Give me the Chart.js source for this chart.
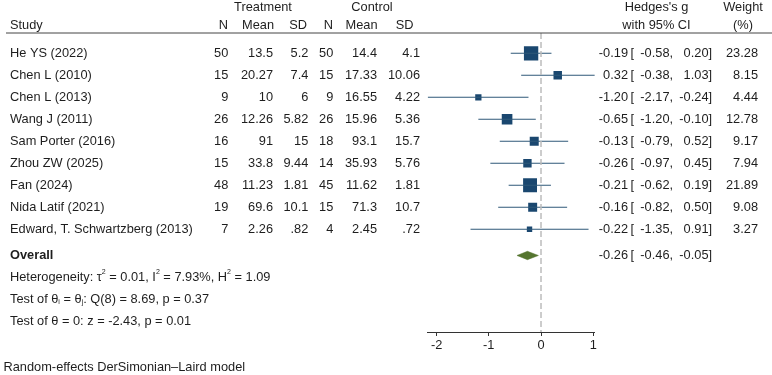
<!DOCTYPE html>
<html>
<head>
<meta charset="utf-8">
<script src="https://cdn.jsdelivr.net/npm/chart.js@4"></script>
<style>
  html, body { margin: 0; padding: 0; background: #fff; }
  #wrap { width: 772px; height: 375px; }
</style>
</head>
<body>
<div id="wrap"><canvas id="forest" width="772" height="375"></canvas></div>
<script>
// study level data
const studies = ['He YS (2022)', 'Chen L (2010)', 'Chen L (2013)', 'Wang J (2011)', 'Sam Porter (2016)',
  'Zhou ZW (2025)', 'Fan (2024)', 'Nida Latif (2021)', 'Edward, T. Schwartzberg (2013)'];
const trtN = [50, 15, 9, 26, 16, 15, 48, 19, 7];
const trtMean = [13.5, 20.27, 10, 12.26, 91, 33.8, 11.23, 69.6, 2.26];
const trtSD = [5.2, 7.4, 6, 5.82, 15, 9.44, 1.81, 10.1, 0.82];
const ctrlN = [50, 15, 9, 26, 18, 14, 45, 15, 4];
const ctrlMean = [14.4, 17.33, 16.55, 15.96, 93.1, 35.93, 11.62, 71.3, 2.45];
const ctrlSD = [4.1, 10.06, 4.22, 5.36, 15.7, 5.76, 1.81, 10.7, 0.72];
const hedgesG = [-0.19, 0.32, -1.20, -0.65, -0.13, -0.26, -0.21, -0.16, -0.22];
const ciLow = [-0.58, -0.38, -2.17, -1.20, -0.79, -0.97, -0.62, -0.82, -1.35];
const ciHigh = [0.20, 1.03, -0.24, -0.10, 0.52, 0.45, 0.19, 0.50, 0.91];
const weights = [23.28, 8.15, 4.44, 12.78, 9.17, 7.94, 21.89, 9.08, 3.27];

// pooled estimate
const overallG = -0.26;
const overallLow = -0.46;
const overallHigh = -0.05;

const xTicks = [-2, -1, 0, 1];

const FONT = "'Liberation Sans', Arial, sans-serif";
const FS = 12.8;
const NAVY = '#1a476f';
const GREEN = '#55752f';
const TXT = '#1e1e1e';

const OVERALL_ROW = 9.19;
const Y_MIN = -0.923, Y_MAX = 12.668;

function fmt(v) {
  return String(v).replace(/^0\./, '.');
}
function f2(v) {
  return v.toFixed(2);
}

// datasets
const datasets = [];

// zero reference line
datasets.push({
  data: [{ x: 0, y: Y_MIN }, { x: 0, y: Y_MAX }],
  showLine: true,
  borderColor: '#bcbcbc',
  borderWidth: 1.5,
  borderDash: [6, 3],
  pointRadius: 0
});

// confidence intervals
studies.forEach((s, i) => {
  datasets.push({
    data: [{ x: ciLow[i], y: i }, { x: ciHigh[i], y: i }],
    showLine: true,
    borderColor: '#2f5878',
    borderWidth: 1.1,
    pointRadius: 0
  });
});

// weighted squares
datasets.push({
  data: hedgesG.map((g, i) => ({ x: g, y: i })),
  showLine: false,
  pointStyle: 'rect',
  pointRadius: weights.map(w => 2.97 * Math.sqrt(w) / Math.SQRT2),
  pointBackgroundColor: NAVY,
  pointBorderWidth: 0
});

// overall diamond
datasets.push({
  data: [
    { x: overallLow, y: OVERALL_ROW },
    { x: overallG, y: OVERALL_ROW - 0.19 },
    { x: overallHigh, y: OVERALL_ROW },
    { x: overallG, y: OVERALL_ROW + 0.19 },
    { x: overallLow, y: OVERALL_ROW }
  ],
  showLine: true,
  fill: 'shape',
  backgroundColor: GREEN,
  borderColor: GREEN,
  borderWidth: 0.5,
  pointRadius: 0
});

function rich(ctx, parts, x, y) {
  ctx.textAlign = 'left';
  parts.forEach(p => {
    let size = FS, dy = 0;
    if (p[1] === 'sup') { size = FS * 0.55; dy = -5; }
    if (p[1] === 'sub') { size = FS * 0.55; dy = 3; }
    ctx.font = size + 'px ' + FONT;
    ctx.fillText(p[0], x, y + dy);
    x += ctx.measureText(p[0]).width;
  });
}

const tablePlugin = {
  id: 'table',
  afterDraw(chart) {
    const ctx = chart.ctx;
    const ys = chart.scales.y;
    ctx.save();
    ctx.fillStyle = TXT;
    ctx.textBaseline = 'middle';
    ctx.font = FS + 'px ' + FONT;

    const text = (t, x, y, align) => {
      ctx.textAlign = align || 'left';
      ctx.fillText(t, x, y);
    };

    // header
    const h1 = 7.5, h2 = 25;
    text('Treatment', 263, h1, 'center');
    text('Control', 372, h1, 'center');
    text('Hedges\'s g', 656.5, h1, 'center');
    text('Weight', 743, h1, 'center');
    text('Study', 10, h2);
    text('N', 228, h2, 'right');
    text('Mean', 274, h2, 'right');
    text('SD', 307, h2, 'right');
    text('N', 333, h2, 'right');
    text('Mean', 377.5, h2, 'right');
    text('SD', 413.5, h2, 'right');
    text('with 95% CI', 656.5, h2, 'center');
    text('(%)', 743, h2, 'center');

    ctx.strokeStyle = '#444';
    ctx.lineWidth = 1;
    ctx.beginPath();
    ctx.moveTo(6, 33);
    ctx.lineTo(772, 33);
    ctx.stroke();

    const ciText = (g, lo, hi, y) => {
      text(f2(g), 628, y, 'right');
      text('[', 630.5, y);
      text(f2(lo), 669.5, y, 'right');
      text(',', 669.5, y);
      text(f2(hi), 708.5, y, 'right');
      text(']', 708.5, y);
    };

    studies.forEach((s, i) => {
      const y = ys.getPixelForValue(i);
      text(s, 10, y);
      text(fmt(trtN[i]), 228.3, y, 'right');
      text(fmt(trtMean[i]), 273, y, 'right');
      text(fmt(trtSD[i]), 308.3, y, 'right');
      text(fmt(ctrlN[i]), 333.3, y, 'right');
      text(fmt(ctrlMean[i]), 377, y, 'right');
      text(fmt(ctrlSD[i]), 420, y, 'right');
      ciText(hedgesG[i], ciLow[i], ciHigh[i], y);
      text(f2(weights[i]), 758, y, 'right');
    });

    const yo = ys.getPixelForValue(OVERALL_ROW);
    ctx.font = 'bold ' + FS + 'px ' + FONT;
    text('Overall', 10, yo);
    ctx.font = FS + 'px ' + FONT;
    ciText(overallG, overallLow, overallHigh, yo);

    rich(ctx, [['Heterogeneity: \u03C4', 'n'], ['2', 'sup'], [' = 0.01, I', 'n'], ['2', 'sup'],
      [' = 7.93%, H', 'n'], ['2', 'sup'], [' = 1.09', 'n']], 10, ys.getPixelForValue(OVERALL_ROW + 1));
    rich(ctx, [['Test of \u03B8', 'n'], ['i', 'sub'], [' = \u03B8', 'n'], ['j', 'sub'],
      [': Q(8) = 8.69, p = 0.37', 'n']], 10, ys.getPixelForValue(OVERALL_ROW + 2));
    rich(ctx, [['Test of \u03B8 = 0: z = -2.43, p = 0.01', 'n']], 10, ys.getPixelForValue(OVERALL_ROW + 3));

    ctx.font = FS + 'px ' + FONT;
    text('Random-effects DerSimonian\u2013Laird model', 3.5, 367);
    ctx.restore();
  }
};

new Chart(document.getElementById('forest').getContext('2d'), {
  type: 'scatter',
  data: { datasets: datasets },
  plugins: [tablePlugin],
  options: {
    responsive: false,
    animation: false,
    events: [],
    layout: { padding: { left: 427.7, right: 177.2, top: 33, bottom: 0 } },
    plugins: { legend: { display: false }, tooltip: { enabled: false } },
    elements: { line: { tension: 0 } },
    scales: {
      x: {
        type: 'linear',
        min: -2.17,
        max: 1.03,
        afterBuildTicks: (scale) => { scale.ticks = xTicks.map(v => ({ value: v })); },
        afterFit: (scale) => { scale.height = 43; },
        grid: { drawOnChartArea: false, drawTicks: true, tickLength: 4, color: '#333' },
        border: { display: true, color: '#333', width: 1 },
        ticks: {
          padding: 2,
          maxRotation: 0,
          color: TXT,
          font: { family: FONT, size: FS },
          callback: (v) => String(v)
        }
      },
      y: {
        type: 'linear',
        display: false,
        reverse: true,
        min: Y_MIN,
        max: Y_MAX
      }
    }
  }
});
</script>
</body>
</html>
